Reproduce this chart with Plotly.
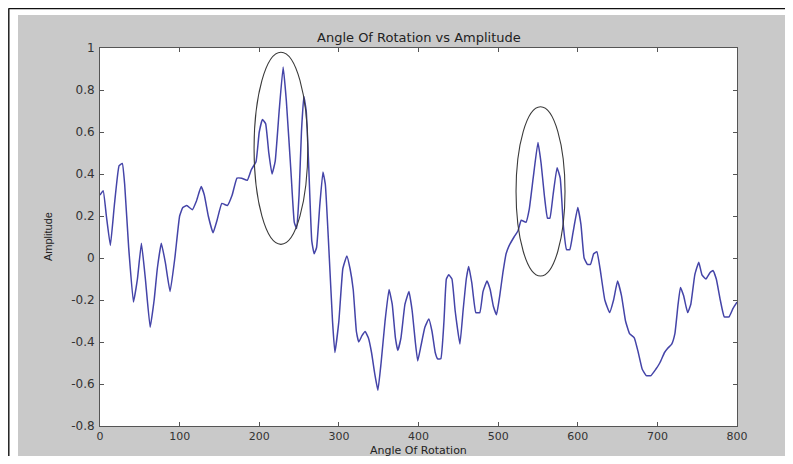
import plotly.graph_objects as go

# ---- data ----
angle = [0, 4, 8, 13, 18, 24, 28, 31, 36, 42, 47, 52, 57, 63, 68, 72, 77, 82, 88, 94,
         100, 104, 109, 116, 121, 127, 131, 136, 142, 147, 153, 160, 166, 172, 178, 185, 190, 196,
         200, 204, 208, 212, 216, 220, 225, 230, 234, 240, 244, 247, 250, 253, 256, 259, 262, 266,
         269, 272, 276, 280, 283, 288, 292, 295, 300, 305, 310, 314, 318, 322, 325, 329, 333, 337,
         341, 345, 349, 353, 358, 363, 367, 371, 374, 378, 383, 388, 392, 396, 399, 403, 408, 413,
         417, 421, 424, 428, 432, 435, 438, 442, 446, 452, 456, 460, 463, 467, 472, 477, 481, 486,
         490, 494, 498, 502, 506, 510, 514, 520, 525, 529, 535, 539, 544, 550, 554, 558, 562, 565,
         569, 574, 578, 582, 586, 590, 594, 600, 604, 608, 612, 616, 620, 624, 628, 634, 640, 645,
         650, 655, 660, 665, 671, 676, 681, 686, 692, 698, 703, 709, 713, 718, 722, 726, 729, 733,
         738, 742, 747, 752, 756, 761, 766, 770, 774, 779, 784, 790, 795, 800]
amplitude = [0.30, 0.32, 0.20, 0.06, 0.25, 0.44, 0.45, 0.35, 0.05, -0.21, -0.10, 0.07, -0.10, -0.33, -0.20, -0.05, 0.07, -0.02, -0.16, 0.00,
             0.20, 0.24, 0.25, 0.23, 0.27, 0.34, 0.30, 0.20, 0.12, 0.18, 0.26, 0.25, 0.30, 0.38, 0.38, 0.37, 0.42, 0.46,
             0.60, 0.66, 0.64, 0.50, 0.40, 0.46, 0.70, 0.91, 0.75, 0.40, 0.17, 0.14, 0.30, 0.60, 0.77, 0.70, 0.45, 0.08,
             0.02, 0.05, 0.25, 0.41, 0.35, 0.00, -0.30, -0.45, -0.30, -0.05, 0.01, -0.05, -0.15, -0.35, -0.40, -0.37, -0.35, -0.38,
             -0.45, -0.55, -0.63, -0.50, -0.30, -0.15, -0.22, -0.38, -0.44, -0.38, -0.22, -0.16, -0.25, -0.40, -0.49, -0.42, -0.33, -0.29,
             -0.35, -0.45, -0.48, -0.48, -0.30, -0.10, -0.08, -0.10, -0.25, -0.41, -0.25, -0.10, -0.04, -0.12, -0.26, -0.26, -0.16, -0.11,
             -0.15, -0.23, -0.27, -0.18, -0.07, 0.02, 0.06, 0.10, 0.13, 0.18, 0.17, 0.23, 0.38, 0.55, 0.45, 0.30, 0.19, 0.19,
             0.30, 0.43, 0.38, 0.15, 0.04, 0.04, 0.12, 0.24, 0.16, 0.00, -0.03, -0.03, 0.02, 0.03, -0.05, -0.20, -0.26, -0.20,
             -0.11, -0.18, -0.30, -0.36, -0.38, -0.45, -0.53, -0.56, -0.56, -0.53, -0.50, -0.45, -0.43, -0.41, -0.36, -0.22, -0.14, -0.18,
             -0.26, -0.22, -0.08, -0.02, -0.08, -0.10, -0.07, -0.06, -0.10, -0.20, -0.28, -0.28, -0.24, -0.21]

x_ticks = [0, 100, 200, 300, 400, 500, 600, 700, 800]
x_tick_labels = ["0", "100", "200", "300", "400", "500", "600", "700", "800"]
y_ticks = [-0.8, -0.6, -0.4, -0.2, 0, 0.2, 0.4, 0.6, 0.8, 1]
y_tick_labels = ["-0.8", "-0.6", "-0.4", "-0.2", "0", "0.2", "0.4", "0.6", "0.8", "1"]

# highlighted regions (ellipses): x0, x1, y0, y1 in data units
ellipse1 = [193.5, 261, 0.065, 0.98]
ellipse2 = [522.5, 584, -0.086, 0.72]

title_text = "Angle Of Rotation vs Amplitude"
x_label = "Angle Of Rotation"
y_label = "Amplitude"

# ---- figure (page has an 8px body margin, so figure coords = page coords - 8) ----
OFF = 8
W, H = 793 - 2 * OFF, 464 - 2 * OFF
L, T = 100 - OFF, 48 - OFF
R = W - (737 - OFF)
B = H - (426 - OFF)
pw, ph = W - L - R, H - T - B


def px_x(page_px):
    return (page_px - OFF - L) / pw


def px_y(page_py):
    return (H - B - (page_py - OFF)) / ph


fig = go.Figure()
fig.add_trace(go.Scatter(x=angle, y=amplitude, mode="lines",
                         line=dict(color="#4444a8", width=1.5, shape="spline", smoothing=0.35),
                         hoverinfo="skip", showlegend=False))

shapes = [
    # gray figure background
    dict(type="rect", xref="paper", yref="paper", layer="below",
         x0=px_x(18), x1=px_x(800), y0=px_y(470), y1=px_y(15),
         fillcolor="#c9c9c9", line=dict(width=0)),
    # white axes area
    dict(type="rect", xref="paper", yref="paper", layer="below",
         x0=0, x1=1, y0=0, y1=1, fillcolor="white", line=dict(width=0)),
    # outer black frame lines
    dict(type="line", xref="paper", yref="paper",
         x0=px_x(8.5), x1=px_x(800), y0=px_y(8.6), y1=px_y(8.6),
         line=dict(color="#111", width=1.4)),
    dict(type="line", xref="paper", yref="paper",
         x0=px_x(8.8), x1=px_x(8.8), y0=px_y(8.5), y1=px_y(470),
         line=dict(color="#111", width=1.4)),
]
for e in (ellipse1, ellipse2):
    shapes.append(dict(type="circle", xref="x", yref="y", x0=e[0], x1=e[1], y0=e[2], y1=e[3],
                       line=dict(color="#3a3a3a", width=1.1), fillcolor="rgba(0,0,0,0)"))

axis_common = dict(showgrid=False, zeroline=False, showline=True, linecolor="#555", linewidth=1,
                   mirror="ticks", ticks="inside", ticklen=4, tickcolor="#555")

fig.update_layout(
    width=W, height=H,
    margin=dict(l=L, r=R, t=T, b=B, pad=0),
    paper_bgcolor="white", plot_bgcolor="white",
    shapes=shapes,
    xaxis=dict(range=[0, 800], tickvals=x_ticks, ticktext=x_tick_labels, ticklabelstandoff=0,
               tickfont=dict(family="DejaVu Sans", size=11, color="#333"), **axis_common),
    yaxis=dict(range=[-0.8, 1], tickvals=y_ticks, ticktext=y_tick_labels, ticklabelstandoff=2,
               tickfont=dict(family="DejaVu Sans", size=12, color="#333"), **axis_common),
    annotations=[
        dict(text=title_text, xref="paper", yref="paper", x=0.5, y=px_y(37),
             xanchor="center", yanchor="middle", showarrow=False,
             font=dict(family="DejaVu Sans", size=13, color="#222")),
        dict(text=x_label, xref="paper", yref="paper", x=0.5, y=px_y(458.5),
             xanchor="center", yanchor="bottom", showarrow=False,
             font=dict(family="DejaVu Sans", size=11, color="#222")),
        dict(text=y_label, xref="paper", yref="paper", x=px_x(48), y=0.5,
             xanchor="center", yanchor="middle", showarrow=False, textangle=-90,
             font=dict(family="Liberation Sans", size=11, color="#222")),
    ],
)

fig.write_html("out.html")
